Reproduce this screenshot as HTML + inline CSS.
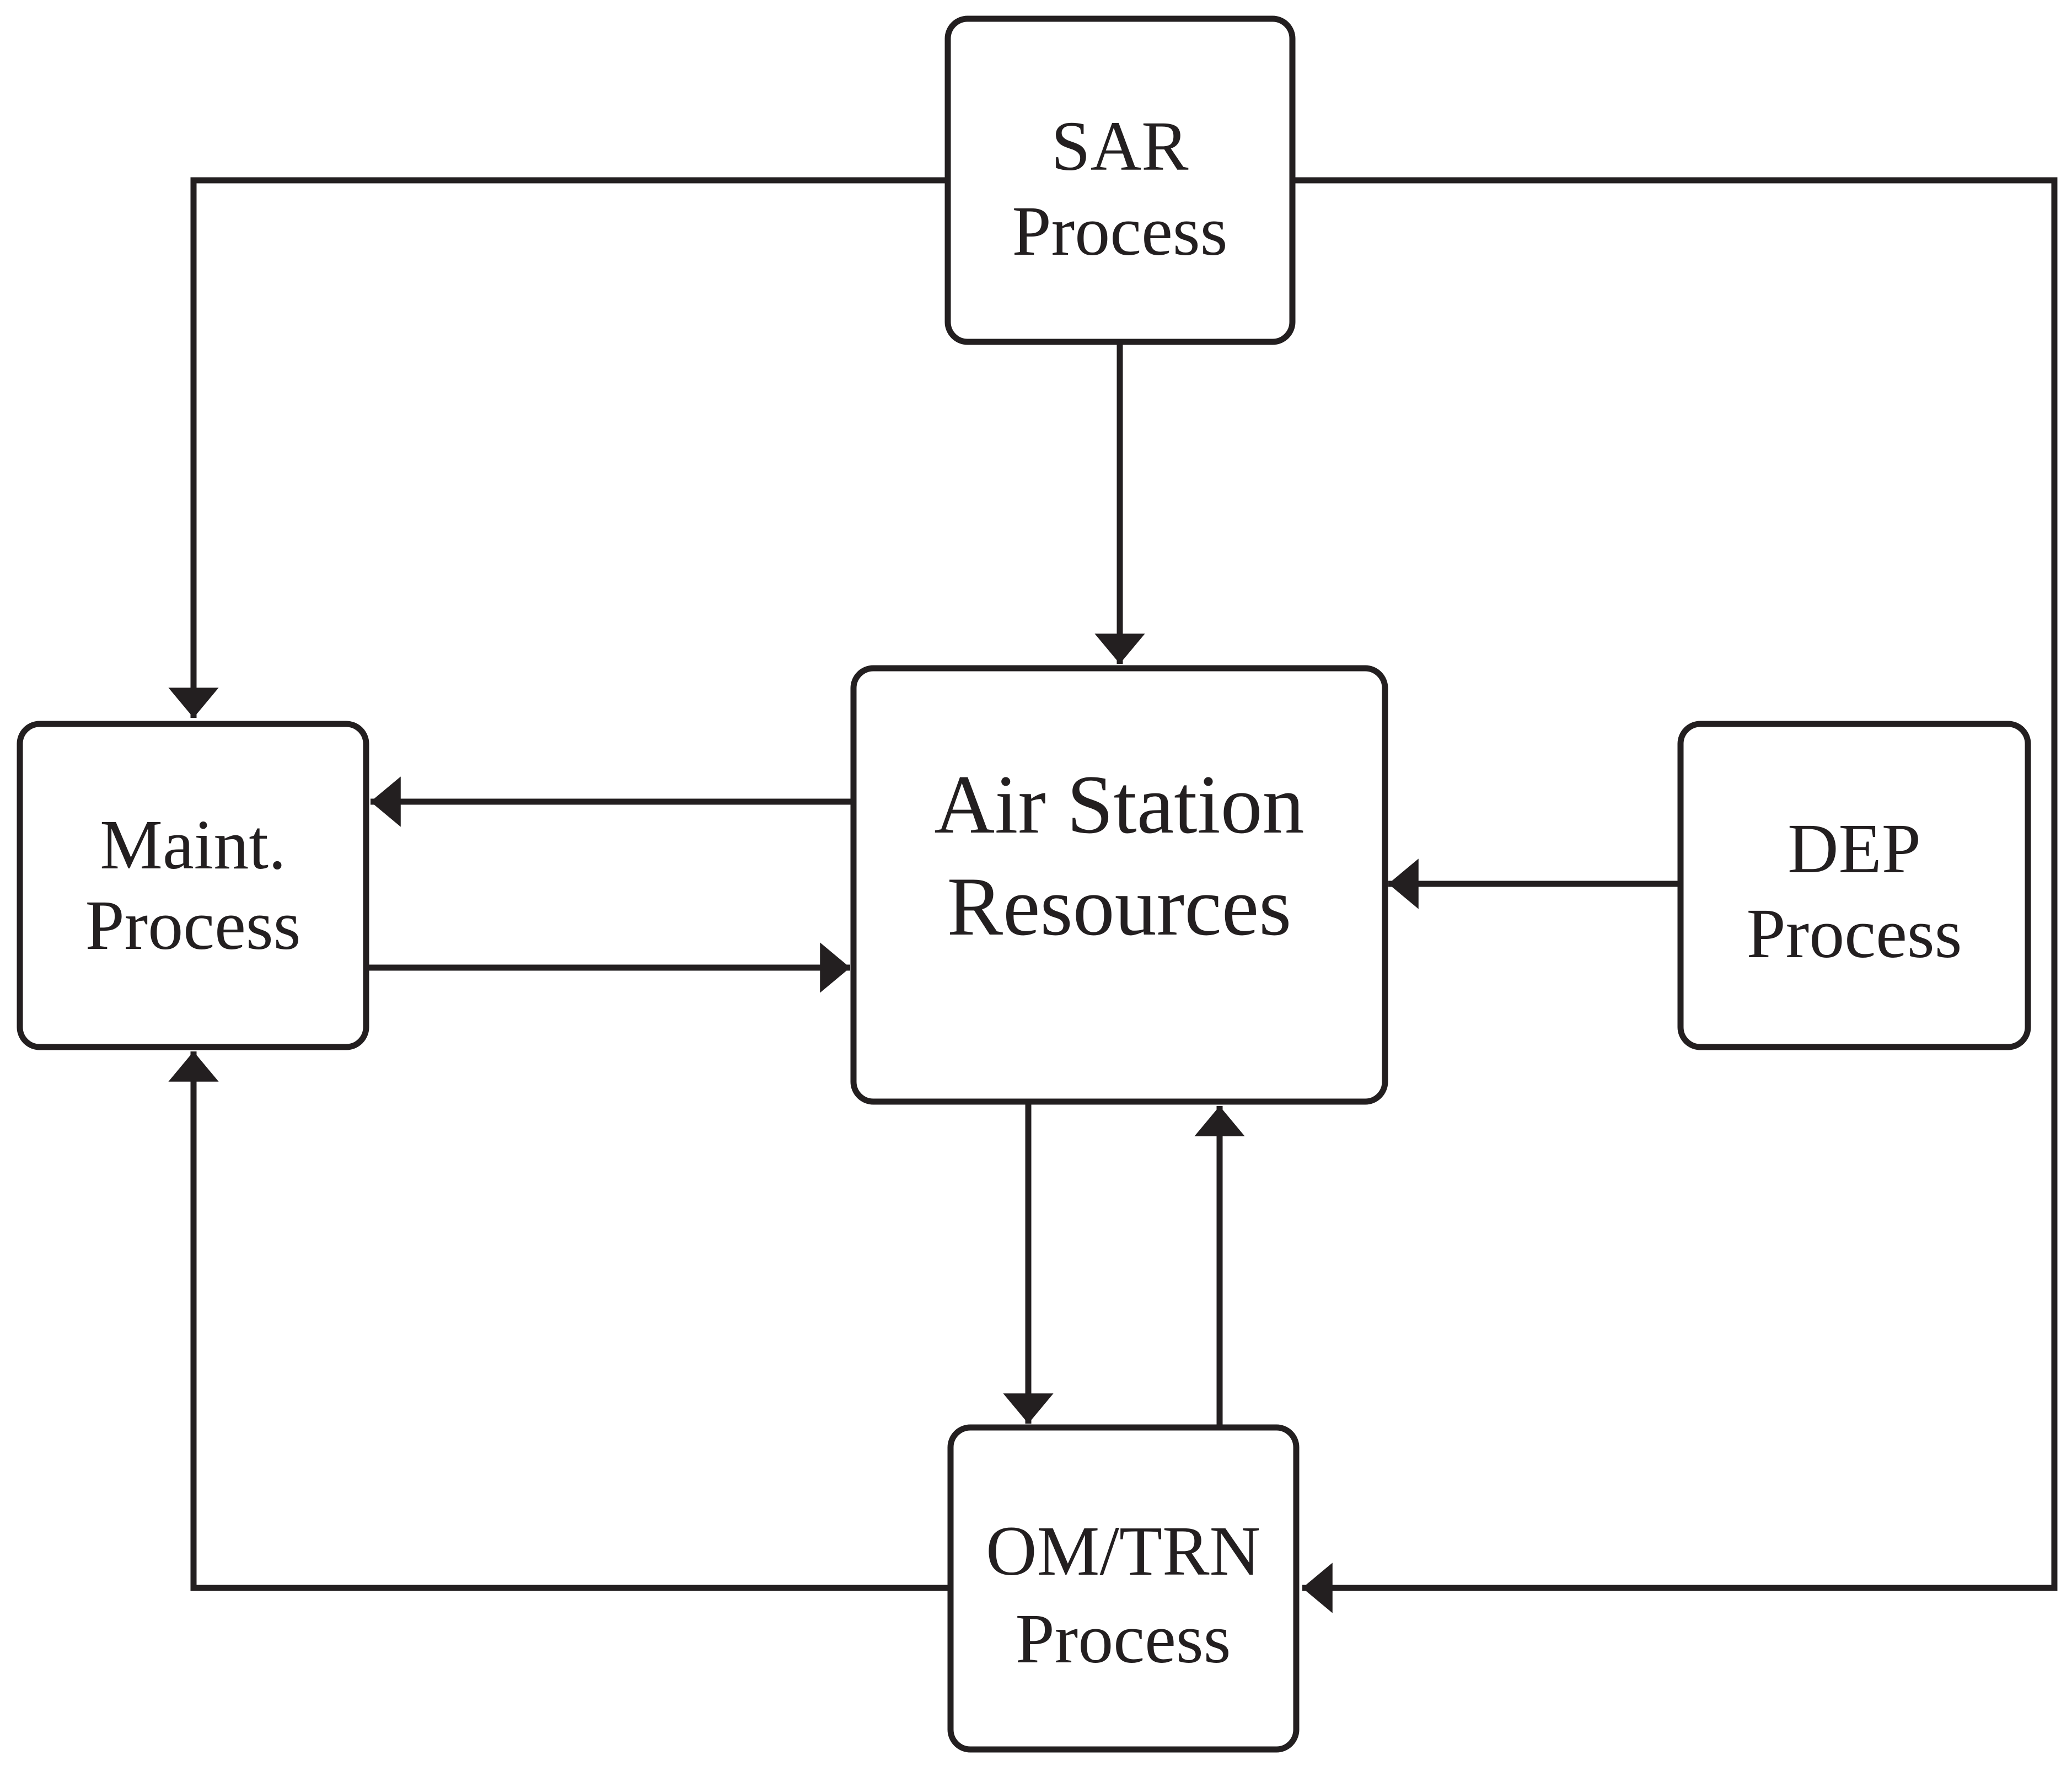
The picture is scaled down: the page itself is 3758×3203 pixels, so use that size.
<!DOCTYPE html>
<html><head><style>html,body{margin:0;padding:0;background:#fff}svg{display:block}</style></head>
<body>
<svg width="3758" height="3203" viewBox="0 0 3758 3203" xmlns="http://www.w3.org/2000/svg">
<defs>
<marker id="a" viewBox="0 0 6 10" refX="6" refY="5" markerWidth="5.0" markerHeight="8.3" orient="auto" markerUnits="strokeWidth">
<path d="M0,0 L6,5 L0,10 z" fill="#231f20"/>
</marker>
</defs>
<g fill="none" stroke="#231f20" stroke-width="11">
<rect x="1719" y="34" width="625" height="586" rx="36"/>
<rect x="36" y="1313" width="628" height="586" rx="36"/>
<rect x="1548" y="1212" width="964" height="786" rx="36"/>
<rect x="3048" y="1313" width="630" height="586" rx="36"/>
<rect x="1724" y="2589" width="627" height="584" rx="36"/>
<polyline points="1719,327 351,327 351,1302" marker-end="url(#a)"/>
<polyline points="2344,327 3726,327 3726,2880 2362,2880" marker-end="url(#a)"/>
<line x1="2031" y1="620" x2="2031" y2="1204" marker-end="url(#a)"/>
<line x1="1548" y1="1454" x2="672" y2="1454" marker-end="url(#a)"/>
<line x1="664" y1="1755" x2="1542" y2="1755" marker-end="url(#a)"/>
<line x1="3048" y1="1603" x2="2518" y2="1603" marker-end="url(#a)"/>
<line x1="1865" y1="1998" x2="1865" y2="2582" marker-end="url(#a)"/>
<line x1="2212" y1="2589" x2="2212" y2="2006" marker-end="url(#a)"/>
<polyline points="1724,2880 351,2880 351,1907" marker-end="url(#a)"/>
</g>
<g font-family="Liberation Serif, serif" fill="#231f20" text-anchor="middle" font-size="128">
<text x="2031" y="308">SAR</text>
<text x="2031" y="462">Process</text>
<text x="350" y="1575">Maint.</text>
<text x="350" y="1721">Process</text>
<text x="3363" y="1582">DEP</text>
<text x="3363" y="1736">Process</text>
<text x="2037" y="2856">OM/TRN</text>
<text x="2037" y="3015">Process</text>
<text x="2030" y="1510" font-size="152">Air Station</text>
<text x="2030" y="1695" font-size="152">Resources</text>
</g>
</svg>
</body></html>
